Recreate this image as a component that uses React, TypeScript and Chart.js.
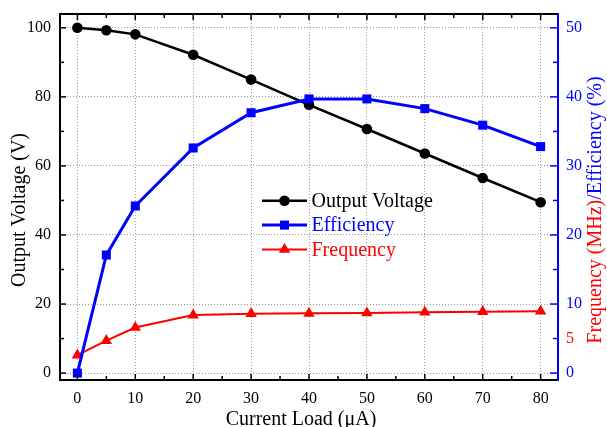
import React, { useEffect, useRef } from "react";
import { Chart, registerables } from "chart.js";
Chart.register(...registerables);

const currentLoad = [0, 5, 10, 20, 30, 40, 50, 60, 70, 80];
const outputVoltage = [100, 99.3, 98.1, 92.2, 85.0, 77.7, 70.7, 63.6, 56.5, 49.5];
const efficiency = [0, 17.1, 24.2, 32.6, 37.7, 39.7, 39.7, 38.3, 35.9, 32.8];
const frequency = [2.6, 4.7, 6.6, 8.4, 8.6, 8.65, 8.7, 8.8, 8.9, 8.95];

const xMajorTicks = [0, 10, 20, 30, 40, 50, 60, 70, 80];
const xMinorTicks = [5, 15, 25, 35, 45, 55, 65, 75];
const leftMajorTicks = [0, 20, 40, 60, 80, 100];
const leftMinorTicks = [10, 30, 50, 70, 90];
const rightLabelTicks = [0, 5, 10, 20, 30, 40, 50];
const rightMajorTicks = [0, 10, 20, 30, 40, 50];
const rightMinorTicks = [5, 15, 25, 35, 45];

const legendLabels = ["Output Voltage", "Efficiency", "Frequency"];
const xTitle = "Current Load (\u03bcA)";
const leftTitle = "Output Voltage (V)";
const rightTitleA = "Frequency (MHz)";
const rightTitleB = "/Efficiency (%)";

const BLACK = "#000000";
const BLUE = "#0000ff";
const RED = "#ff0000";
const FAMILY = '"Liberation Serif", "Times New Roman", serif';
const font = (s: number) => `${s}px ${FAMILY}`;

function drawMarker(ctx: CanvasRenderingContext2D, style: string, x: number, y: number, r: number, color: string) {
  ctx.save();
  ctx.fillStyle = color;
  ctx.beginPath();
  if (style === "circle") {
    ctx.arc(x, y, r, 0, Math.PI * 2);
  } else if (style === "rect") {
    const s = Math.SQRT1_2 * r;
    ctx.rect(x - s, y - s, 2 * s, 2 * s);
  } else {
    let rad = 0;
    ctx.moveTo(x + Math.sin(rad) * r, y - Math.cos(rad) * r);
    rad += (2 * Math.PI) / 3;
    ctx.lineTo(x + Math.sin(rad) * r, y - Math.cos(rad) * r);
    rad += (2 * Math.PI) / 3;
    ctx.lineTo(x + Math.sin(rad) * r, y - Math.cos(rad) * r);
    ctx.closePath();
  }
  ctx.fill();
  ctx.restore();
}

const decorPlugin = {
  id: "decor",
  afterDraw(chart: any) {
    const ctx: CanvasRenderingContext2D = chart.ctx;
    const ca = chart.chartArea;
    const xs = chart.scales.x;
    const yl = chart.scales.y;
    const yr = chart.scales.y1;
    ctx.save();
    ctx.strokeStyle = BLACK;
    ctx.lineWidth = 2;
    ctx.beginPath();
    ctx.moveTo(ca.left - 1, ca.top);
    ctx.lineTo(ca.right, ca.top);
    ctx.stroke();
    ctx.lineWidth = 1.5;
    const tick = (x1: number, y1: number, x2: number, y2: number, color: string) => {
      ctx.strokeStyle = color;
      ctx.beginPath();
      ctx.moveTo(x1, y1);
      ctx.lineTo(x2, y2);
      ctx.stroke();
    };
    xMajorTicks.forEach((v) => {
      const px = xs.getPixelForValue(v);
      tick(px, ca.bottom, px, ca.bottom - 6, BLACK);
      tick(px, ca.top, px, ca.top + 6, BLACK);
    });
    xMinorTicks.forEach((v) => {
      const px = xs.getPixelForValue(v);
      tick(px, ca.bottom, px, ca.bottom - 4, BLACK);
      tick(px, ca.top, px, ca.top + 4, BLACK);
    });
    leftMajorTicks.forEach((v) => {
      const py = yl.getPixelForValue(v);
      tick(ca.left, py, ca.left + 6, py, BLACK);
    });
    leftMinorTicks.forEach((v) => {
      const py = yl.getPixelForValue(v);
      tick(ca.left, py, ca.left + 4, py, BLACK);
    });
    rightMajorTicks.forEach((v) => {
      const py = yr.getPixelForValue(v);
      tick(ca.right, py, ca.right - 8, py, BLUE);
    });
    rightMinorTicks.forEach((v) => {
      const py = yr.getPixelForValue(v);
      tick(ca.right, py, ca.right - 5, py, BLUE);
    });

    ctx.fillStyle = BLACK;
    ctx.font = font(20);
    ctx.textAlign = "center";
    ctx.textBaseline = "alphabetic";
    ctx.fillText(xTitle, 301, 425);
    ctx.save();
    ctx.translate(25, 210);
    ctx.rotate(-Math.PI / 2);
    ctx.fillText(leftTitle, 0, 0);
    ctx.restore();
    ctx.save();
    ctx.translate(601, 210);
    ctx.rotate(-Math.PI / 2);
    ctx.textAlign = "left";
    const wa = ctx.measureText(rightTitleA).width;
    const wb = ctx.measureText(rightTitleB).width;
    const start = -(wa + wb) / 2;
    ctx.fillStyle = RED;
    ctx.fillText(rightTitleA, start, 0);
    ctx.fillStyle = BLUE;
    ctx.fillText(rightTitleB, start + wa, 0);
    ctx.restore();

    const items = [
      { label: legendLabels[0], color: BLACK, style: "circle", r: 5.3, w: 2.5 },
      { label: legendLabels[1], color: BLUE, style: "rect", r: 6.4, w: 3 },
      { label: legendLabels[2], color: RED, style: "triangle", r: 6.6, w: 2 },
    ];
    items.forEach((it, i) => {
      const y = 200.7 + i * 24.4;
      ctx.strokeStyle = it.color;
      ctx.lineWidth = it.w;
      ctx.beginPath();
      ctx.moveTo(262, y);
      ctx.lineTo(307, y);
      ctx.stroke();
      drawMarker(ctx, it.style, 284.5, y, it.r, it.color);
      ctx.fillStyle = it.color;
      ctx.font = font(20);
      ctx.textAlign = "left";
      ctx.textBaseline = "alphabetic";
      ctx.fillText(it.label, 311.5, y + 6);
    });
    ctx.restore();
  },
};

export default function App() {
  const ref = useRef<HTMLCanvasElement | null>(null);
  useEffect(() => {
    if (!ref.current) return;
    const toXY = (arr: number[]) => arr.map((v, i) => ({ x: currentLoad[i], y: v }));
    const gridColor = "#999999";
    const zeroPad = (s: any) => {
      s.paddingTop = 0;
      s.paddingBottom = 0;
      s.paddingLeft = 0;
      s.paddingRight = 0;
    };
    const chart = new Chart(ref.current, {
      type: "line",
      data: {
        datasets: [
          {
            label: legendLabels[0],
            data: toXY(outputVoltage),
            yAxisID: "y",
            borderColor: BLACK,
            backgroundColor: BLACK,
            borderWidth: 2.5,
            pointStyle: "circle",
            pointRadius: 5.3,
            pointBorderWidth: 0,
            order: 1,
          },
          {
            label: legendLabels[1],
            data: toXY(efficiency),
            yAxisID: "y1",
            borderColor: BLUE,
            backgroundColor: BLUE,
            borderWidth: 3,
            pointStyle: "rect",
            pointRadius: 6.4,
            pointBorderWidth: 0,
            order: 0,
          },
          {
            label: legendLabels[2],
            data: toXY(frequency),
            yAxisID: "y1",
            borderColor: RED,
            backgroundColor: RED,
            borderWidth: 2,
            pointStyle: "triangle",
            pointRadius: 6.6,
            pointBorderWidth: 0,
            order: 2,
          },
        ],
      },
      options: {
        responsive: false,
        animation: false,
        layout: { padding: { top: 14, left: 0, right: 0, bottom: 0 } },
        plugins: { legend: { display: false }, tooltip: { enabled: false } },
        scales: {
          x: {
            type: "linear",
            min: -3,
            max: 83,
            afterBuildTicks: (s: any) => {
              s.ticks = xMajorTicks.map((v) => ({ value: v }));
            },
            afterFit: (s: any) => {
              s.height = 47;
              zeroPad(s);
            },
            ticks: { font: { family: FAMILY, size: 16 }, color: BLACK, padding: 9, maxRotation: 0, autoSkip: false },
            grid: { color: gridColor, lineWidth: 1, drawTicks: false },
            border: { color: BLACK, width: 2, dash: [1, 2] },
          },
          y: {
            type: "linear",
            position: "left",
            min: -2,
            max: 104,
            afterBuildTicks: (s: any) => {
              s.ticks = leftMajorTicks.map((v) => ({ value: v }));
            },
            afterFit: (s: any) => {
              s.width = 60;
              zeroPad(s);
            },
            ticks: { font: { family: FAMILY, size: 16 }, color: BLACK, padding: 9, autoSkip: false },
            grid: { color: gridColor, lineWidth: 1, drawTicks: false },
            border: { color: BLACK, width: 2, dash: [1, 2] },
          },
          y1: {
            type: "linear",
            position: "right",
            min: -1,
            max: 52,
            afterBuildTicks: (s: any) => {
              s.ticks = rightLabelTicks.map((v) => ({ value: v }));
            },
            afterFit: (s: any) => {
              s.width = 49;
              zeroPad(s);
            },
            ticks: {
              font: { family: FAMILY, size: 16 },
              color: (c: any) => (c.tick && c.tick.value === 5 ? RED : BLUE),
              padding: 8,
              autoSkip: false,
            },
            grid: { drawOnChartArea: false, drawTicks: false },
            border: { color: BLUE, width: 2 },
          },
        },
      },
      plugins: [decorPlugin],
    } as any);
    return () => chart.destroy();
  }, []);
  return (
    <div style={{ position: "fixed", left: 0, top: 0, width: 607, height: 427, background: "#fff" }}>
      <canvas ref={ref} width={607} height={427} style={{ display: "block" }} />
    </div>
  );
}
